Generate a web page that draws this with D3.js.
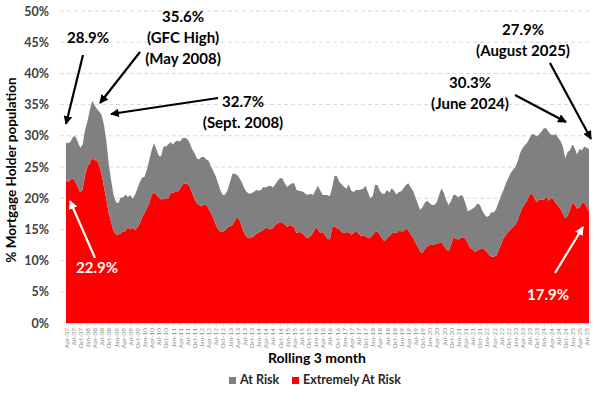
<!DOCTYPE html>
<html><head><meta charset="utf-8">
<script src="https://cdn.jsdelivr.net/npm/d3@7"></script>
<style>
body{margin:0;background:#fff;}
svg{display:block;font-family:Lato,"Open Sans",sans-serif;}
</style></head>
<body><svg id="c" width="606" height="396"></svg>
<script>
// ---- DATA ----
const startMonth = "2007-04-01";
const nMonths = 221; // Apr-07 .. Aug-25
const totalAtRisk = [
28.9,28.8,29.1,29.9,29.9,29.0,28.1,28.6,30.9,32.3,
34.1,35.6,34.9,34.3,33.9,33.3,31.7,29.1,25.4,22.8,
20.5,19.4,19.2,20.1,20.1,20.6,20.2,20.5,19.9,20.5,
21.5,22.5,23.3,23.4,24.5,26.1,27.7,28.8,27.9,26.8,
26.7,28.3,28.3,28.6,29.0,28.6,29.1,29.2,29.1,29.6,
29.7,29.5,28.9,27.9,27.3,26.4,26.2,26.6,26.6,26.2,
26.0,25.1,24.3,23.5,22.4,21.2,20.5,20.6,21.3,22.6,
23.9,23.9,23.7,23.2,22.5,21.6,21.0,20.7,20.8,21.0,
21.3,21.2,21.3,21.8,21.7,21.9,22.0,21.7,22.2,22.8,
23.2,23.2,22.4,21.8,22.1,22.4,22.4,21.3,21.2,21.1,
21.0,20.6,20.6,20.7,20.5,21.3,22.0,21.2,20.5,20.5,
20.5,20.3,21.8,23.6,23.5,22.6,22.2,21.8,21.5,22.2,
21.2,21.0,21.3,21.3,21.4,21.5,22.0,21.0,20.0,20.3,
22.1,22.1,21.2,20.7,20.7,21.3,20.9,21.6,21.2,20.6,
21.0,21.1,21.6,22.1,22.4,21.7,21.2,20.1,19.1,18.1,
18.6,19.3,19.6,19.2,18.9,18.9,19.4,20.6,21.6,20.8,
19.6,18.9,19.6,20.5,20.5,20.1,20.5,20.3,19.2,17.9,
18.1,18.3,18.6,19.1,19.0,18.1,17.4,17.0,17.2,17.8,
17.7,18.3,19.4,20.4,21.3,22.3,23.2,24.0,24.5,25.0,
25.9,27.2,28.0,28.5,28.9,29.6,30.3,30.2,29.9,30.2,
30.7,31.2,31.2,30.6,30.2,30.1,30.3,29.7,29.2,28.3,
26.4,27.4,27.7,28.6,28.0,27.0,27.9,27.7,28.3,28.1,
27.9];
const extremelyAtRisk = [
22.9,22.6,23.0,23.2,22.6,21.8,20.9,21.4,23.7,25.1,
25.6,26.5,26.1,26.1,25.3,23.7,21.8,19.7,17.6,16.1,
14.8,14.2,14.2,14.4,14.7,14.7,15.3,15.0,15.3,14.9,
15.3,15.9,16.9,17.6,18.4,19.2,20.5,20.9,20.6,20.1,
19.8,19.9,20.0,20.0,20.8,20.9,21.0,21.0,21.6,22.2,
22.4,22.3,21.9,20.9,19.9,19.2,18.9,18.7,19.0,19.0,
18.3,17.6,16.8,15.8,15.0,14.6,14.6,14.9,15.3,15.5,
15.7,16.4,17.0,16.5,15.4,14.4,13.8,13.6,13.7,13.9,
14.3,14.5,14.7,14.9,15.3,15.2,15.0,15.2,15.7,16.0,
16.2,16.1,15.8,15.4,15.7,15.6,15.3,14.4,14.6,14.5,
14.2,13.7,13.7,14.0,14.5,15.3,15.0,14.4,14.6,14.1,
13.5,13.4,15.3,15.5,15.2,15.0,14.6,14.4,14.6,14.5,
14.2,14.4,14.8,14.4,13.9,14.0,13.9,13.7,13.7,14.1,
14.6,14.7,14.2,13.5,13.1,13.6,13.9,14.4,14.5,14.4,
14.8,14.7,14.7,15.1,14.9,14.2,13.7,12.9,12.2,11.4,
11.2,11.9,12.3,12.5,12.5,12.6,12.8,12.8,13.0,12.3,
11.8,11.5,12.6,13.8,13.5,13.4,13.6,13.8,13.5,12.9,
12.0,11.8,11.4,11.6,11.8,11.9,11.8,11.4,10.9,10.6,
10.6,10.8,11.7,12.6,13.6,14.1,14.6,15.0,15.4,15.8,
16.4,17.6,18.5,19.1,19.6,20.5,20.8,20.0,19.4,19.8,
19.8,19.7,20.3,19.6,20.0,19.9,19.2,18.8,18.3,17.5,
16.8,17.2,18.1,19.3,19.0,18.3,18.5,19.2,19.3,18.6,
17.9];
const yTicks = [0,5,10,15,20,25,30,35,40,45,50];
const seriesNames = ["At Risk","Extremely At Risk"];
const seriesColors = ["#808080","#ff0000"];
const annotations = [
  {lines:["28.9%"], x:88, y:38, color:"#000", arrow:[83,55,66,124]},
  {lines:["35.6%","(GFC High)","(May 2008)"], x:183, y:17, color:"#000", arrow:[140,52,100,103]},
  {lines:["32.7%","(Sept. 2008)"], x:243, y:102, color:"#000", arrow:[218,98,111,114]},
  {lines:["30.3%","(June 2024)"], x:470, y:83, color:"#000", arrow:[515,95,566,122]},
  {lines:["27.9%","(August 2025)"], x:523, y:30, color:"#000", arrow:[550,63,591,139]},
  {lines:["22.9%"], x:97, y:268, color:"#fff", arrow:[95,258,70,201]},
  {lines:["17.9%"], x:548, y:295, color:"#fff", arrow:[555,273,583,227]}
];

// ---- CATEGORIES ----
const months = d3.utcMonth.range(new Date(startMonth+"T00:00:00Z"), d3.utcMonth.offset(new Date(startMonth+"T00:00:00Z"), nMonths));
const fmt = d3.utcFormat("%b-%y");
const categories = months.map(fmt);
const tickLabels = categories.filter((d,i)=>i%3===0);

const rows = categories.map((c,i)=>({cat:c, extreme:extremelyAtRisk[i], atRisk: +(totalAtRisk[i]-extremelyAtRisk[i]).toFixed(2)}));

const svg = d3.select("#c");
const L=66, R=589, T=11, B=323;
const x = d3.scalePoint().domain(categories).range([L,R]);
const y = d3.scaleLinear().domain([0,50]).range([B,T]);

// gridlines
svg.append("g").selectAll("line").data(yTicks.filter(d=>d>0)).join("line")
  .attr("x1",60).attr("x2",590).attr("y1",d=>y(d)).attr("y2",d=>y(d))
  .attr("stroke","#d9d9d9").attr("stroke-width",1).attr("stroke-dasharray","4,3");

// stacked areas
const stack = d3.stack().keys(["extreme","atRisk"]);
const layers = stack(rows);
const area = d3.area().x(d=>x(d.data.cat)).y0(d=>y(d[0])).y1(d=>y(d[1])).curve(d3.curveLinear);
svg.append("g").selectAll("path").data(layers).join("path")
  .attr("d",area).attr("fill",(d,i)=>i===0?seriesColors[1]:seriesColors[0]);

// x axis line + ticks
svg.append("line").attr("x1",L).attr("x2",R).attr("y1",B+0.5).attr("y2",B+0.5).attr("stroke","#d9d9d9");
const xg = svg.append("g").attr("transform",`translate(0,${B})`);
const xAxis = d3.axisBottom(x).tickValues(tickLabels).tickSize(3).tickSizeOuter(0);
xg.call(xAxis);
xg.select(".domain").remove();
xg.selectAll(".tick line").attr("stroke","#d9d9d9");
xg.selectAll(".tick text")
  .attr("font-size",6.5).attr("fill","#8c8c8c").attr("font-family","Lato,sans-serif")
  .attr("text-anchor","end").attr("transform","rotate(-90)")
  .attr("x",-5).attr("y",0).attr("dy","0.32em");

// y axis labels
const yg = svg.append("g").attr("transform",`translate(${L},0)`);
yg.call(d3.axisLeft(y).tickValues(yTicks).tickFormat(d=>d+"%").tickSize(0).tickPadding(17));
yg.select(".domain").remove();
yg.selectAll(".tick text").attr("font-size",12.5).attr("font-weight","bold").attr("fill","#404040").attr("font-family","Lato,sans-serif");

// axis titles
svg.append("text").attr("transform","translate(16,170) rotate(-90)").attr("text-anchor","middle")
  .attr("font-size",13.5).attr("font-weight","bold").attr("fill","#000").text("% Mortgage Holder population");
svg.append("text").attr("x",317).attr("y",363).attr("text-anchor","middle")
  .attr("font-size",14).attr("font-weight","bold").attr("fill","#000").text("Rolling 3 month");

// legend
const leg = svg.append("g").attr("transform","translate(229,380)");
const legItems = [{name:seriesNames[0],color:seriesColors[0],x:0},{name:seriesNames[1],color:seriesColors[1],x:63}];
legItems.forEach(it=>{
  leg.append("rect").attr("x",it.x).attr("y",-3).attr("width",7).attr("height",7).attr("fill",it.color);
  leg.append("text").attr("x",it.x+11).attr("y",0).attr("dy","0.35em")
    .attr("font-size",12.5).attr("font-weight","bold").attr("fill","#262626").text(it.name);
});

// annotations
const defs = svg.append("defs");
["#000","#fff"].forEach((c,k)=>{
  defs.append("marker").attr("id","ah"+k).attr("viewBox","0 0 10 10").attr("refX",9).attr("refY",5)
    .attr("markerWidth",4).attr("markerHeight",4).attr("orient","auto-start-reverse")
    .append("path").attr("d","M0,0L10,5L0,10z").attr("fill",c);
});
annotations.forEach(a=>{
  const k = a.color==="#000"?0:1;
  svg.append("line").attr("x1",a.arrow[0]).attr("y1",a.arrow[1]).attr("x2",a.arrow[2]).attr("y2",a.arrow[3])
    .attr("stroke",a.color).attr("stroke-width",2.2).attr("marker-end",`url(#ah${k})`);
  a.lines.forEach((t,j)=>{
    svg.append("text").attr("x",a.x).attr("y",a.y+j*21).attr("dy","0.35em").attr("text-anchor","middle")
      .attr("font-size",15).attr("font-weight","bold").attr("fill",a.color).text(t);
  });
});
</script></body></html>
